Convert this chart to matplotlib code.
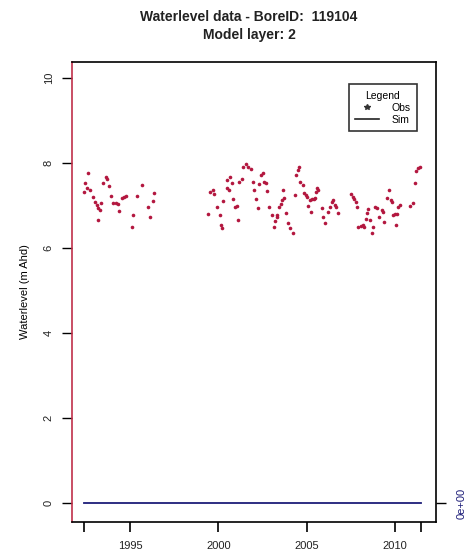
import matplotlib
matplotlib.use("Agg")
import matplotlib.pyplot as plt
from matplotlib.lines import Line2D

plt.rcParams['font.family'] = ['Liberation Sans', 'DejaVu Sans']

# ---- data ----
obs_years = [1992.64, 1992.45, 1992.42, 1992.58, 1992.74, 1992.89, 1993.02, 1993.12, 1993.21, 1993.30,
             1993.17, 1993.36, 1993.49, 1993.64, 1993.72, 1993.83, 1993.92, 1994.05, 1994.21, 1994.34,
             1994.39, 1994.53, 1994.66, 1994.77, 1995.19, 1995.13, 1995.38, 1995.66, 1996.04, 1996.13,
             1996.28, 1996.36, 1999.43, 1999.53, 1999.71, 1999.77, 1999.94, 2000.09, 2000.13, 2000.19,
             2000.28, 2000.51, 2000.66, 2000.76, 2000.47, 2000.62, 2000.85, 2000.94, 2001.07, 2001.13,
             2001.19, 2001.32, 2001.41, 2001.56, 2001.69, 2001.83, 2001.94, 2002.02, 2002.13, 2002.23,
             2002.32, 2002.41, 2002.51, 2002.60, 2002.70, 2002.77, 2002.88, 2003.02, 2003.15, 2003.21,
             2003.30, 2003.34, 2003.45, 2003.53, 2003.59, 2003.72, 2003.68, 2003.83, 2003.96, 2004.05,
             2004.21, 2004.34, 2004.39, 2004.49, 2004.58, 2004.62, 2004.77, 2004.85, 2004.96, 2005.03,
             2005.09, 2005.19, 2005.28, 2005.41, 2005.47, 2005.23, 2005.50, 2005.60, 2005.66, 2005.85,
             2005.94, 2006.04, 2006.22, 2006.32, 2006.42, 2006.51, 2006.60, 2006.66, 2006.79, 2007.49,
             2007.60, 2007.68, 2007.77, 2007.86, 2007.92, 2008.06, 2008.17, 2008.24, 2008.36, 2008.43,
             2008.49, 2008.58, 2008.68, 2008.77, 2008.87, 2008.96, 2009.11, 2009.24, 2009.30, 2009.37,
             2009.53, 2009.67, 2009.75, 2009.81, 2009.90, 2010.00, 2010.09, 2010.05, 2010.18, 2010.28,
             2010.85, 2011.00, 2011.13, 2011.19, 2011.32, 2011.41]
obs_levels = [7.76, 7.54, 7.33, 7.41, 7.37, 7.20, 7.10, 7.02, 6.94, 6.90,
              6.67, 7.06, 7.54, 7.67, 7.62, 7.47, 7.23, 7.07, 7.06, 7.04,
              6.88, 7.18, 7.21, 7.23, 6.78, 6.51, 7.23, 7.49, 6.96, 6.73,
              7.12, 7.29, 6.81, 7.33, 7.36, 7.28, 6.96, 6.78, 6.55, 6.47,
              7.12, 7.61, 7.67, 7.54, 7.41, 7.37, 7.15, 6.96, 7.00, 6.67,
              7.57, 7.62, 7.92, 7.98, 7.92, 7.86, 7.57, 7.36, 7.16, 6.94,
              7.51, 7.72, 7.76, 7.57, 7.53, 7.35, 6.96, 6.78, 6.51, 6.65,
              6.78, 6.73, 6.96, 7.04, 7.14, 7.18, 7.36, 6.82, 6.59, 6.47,
              6.35, 7.25, 7.72, 7.84, 7.92, 7.57, 7.49, 7.31, 7.25, 7.20,
              7.00, 7.14, 7.15, 7.16, 7.18, 6.86, 7.33, 7.41, 7.37, 6.94,
              6.73, 6.59, 6.86, 6.96, 7.10, 7.14, 7.02, 6.96, 6.84, 7.28,
              7.20, 7.15, 7.10, 6.96, 6.49, 6.52, 6.55, 6.51, 6.68, 6.82,
              6.92, 6.67, 6.37, 6.51, 6.96, 6.94, 6.73, 6.90, 6.86, 6.63,
              7.18, 7.37, 7.14, 7.10, 6.78, 6.80, 6.81, 6.55, 6.96, 7.02,
              7.00, 7.07, 7.54, 7.83, 7.88, 7.92]
sim_years = [1992.42, 2011.45]
sim_levels = [0.0, 0.0]

y_ticks = [0, 2, 4, 6, 8, 10]
x_ticks = [1992.42, 1995, 2000, 2005, 2010, 2011.45]
x_labels = ['', '1995', '2000', '2005', '2010', '']
title_line1 = "Waterlevel data - BoreID:  119104"
title_line2 = "Model layer: 2"
ylabel = "Waterlevel (m Ahd)"

obs_color = '#b3173f'
sim_color = '#1c1c78'
left_color = '#c0304a'

fig = plt.figure(figsize=(4.67, 5.57), dpi=100)
ax = fig.add_axes([0.1535, 0.0634, 0.7795, 0.8258])

ax.plot(sim_years, sim_levels, color=sim_color, lw=1.3, zorder=2)
ax.plot(obs_years, obs_levels, linestyle='none', marker='o', markersize=2.6,
        color=obs_color, markeredgewidth=0, zorder=3)

ax.set_xlim(1991.70, 2012.30)
ax.set_ylim(-0.433, 10.39)

ax.set_yticks(y_ticks)
ax.set_yticklabels([str(v) for v in y_ticks], rotation=90, va='center', fontsize=8, color='#222222')
ax.set_xticks(x_ticks)
ax.set_xticklabels(x_labels, fontsize=8, color='#222222')
ax.tick_params(axis='y', length=7, width=1, pad=6, direction='out')
ax.tick_params(axis='x', length=7, width=1.2, pad=7, direction='out')

for side in ['top', 'right', 'bottom']:
    ax.spines[side].set_color('black')
    ax.spines[side].set_linewidth(1.2)
ax.spines['left'].set_color(left_color)
ax.spines['left'].set_linewidth(1.2)

ax.set_ylabel(ylabel, fontsize=8, labelpad=10)

# right axis
ax2 = ax.twinx()
ax2.set_ylim(ax.get_ylim())
ax2.set_yticks([0])
ax2.set_yticklabels(['0e+00'], rotation=90, va='center', fontsize=8, color=sim_color)
ax2.tick_params(axis='y', length=7, width=1, pad=8, direction='out')
for side in ['top', 'right', 'bottom', 'left']:
    ax2.spines[side].set_visible(False)

# legend
handles = [Line2D([], [], linestyle='none', marker='*', markersize=4, color='#333333'),
           Line2D([], [], color='#222222', lw=1.2)]
leg = ax.legend(handles, ['Obs', 'Sim'], title='Legend', loc='upper right',
                bbox_to_anchor=(0.948, 0.951), fontsize=7.5, title_fontsize=7.5,
                frameon=True, fancybox=False, edgecolor='black', handlelength=2.3,
                borderpad=0.6, labelspacing=0.2, handletextpad=1.2, borderaxespad=0)
leg.get_frame().set_linewidth(1.2)

fig.text(0.533, 1 - 17 / 557, title_line1, ha='center', va='center', fontsize=10, fontweight='bold',
         color='#222222')
fig.text(0.533, 1 - 35 / 557, title_line2, ha='center', va='center', fontsize=10, fontweight='bold',
         color='#222222')

fig.savefig('out.png', dpi=100)
